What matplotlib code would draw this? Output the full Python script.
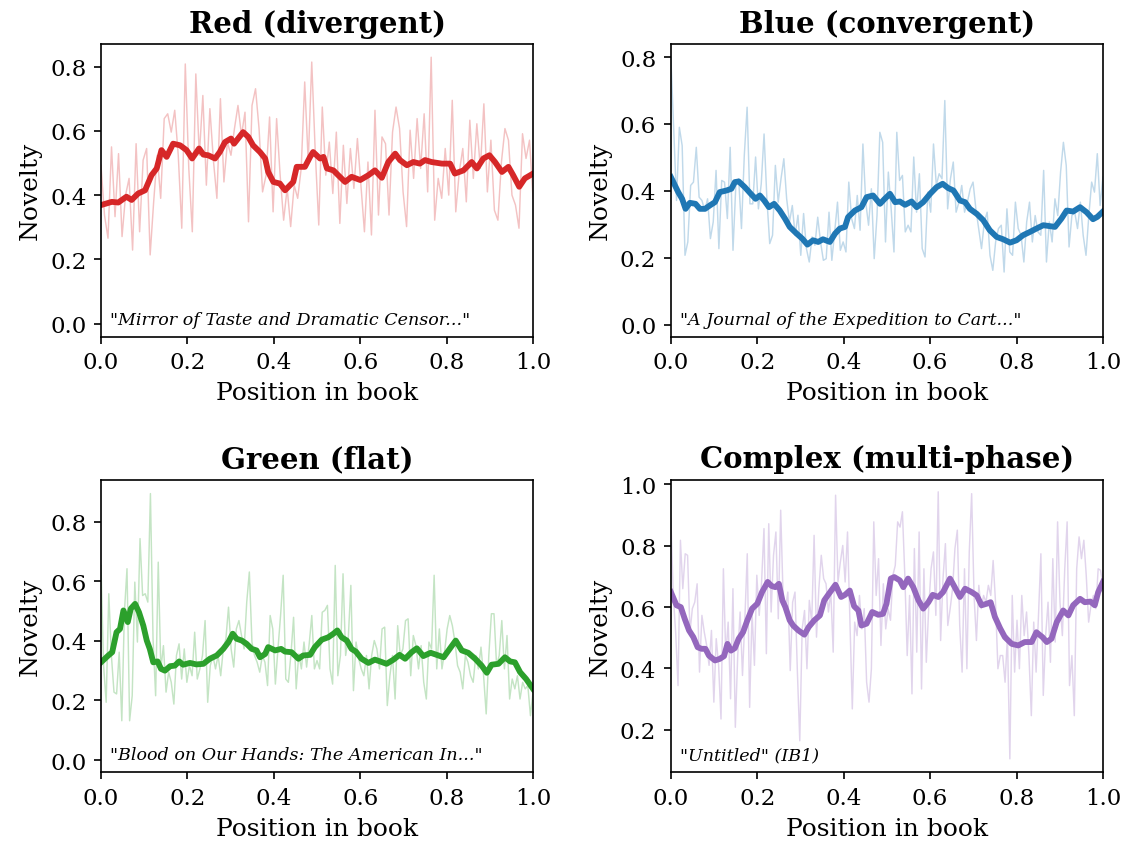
import numpy as np
import matplotlib
matplotlib.use("Agg")
import matplotlib.pyplot as plt

plt.rcParams['font.family'] = ['DejaVu Serif']

# ---- data ----
titles = ["Red (divergent)", "Blue (convergent)", "Green (flat)", "Complex (multi-phase)"]
books = ['"Mirror of Taste and Dramatic Censor..."',
         '"A Journal of the Expedition to Cart..."',
         '"Blood on Our Hands: The American In..."',
         '"Untitled" (IB1)']
colors = ["#d62728", "#1f77b4", "#2ca02c", "#9467bd"]

red_raw = [0.493, 0.338, 0.266, 0.550, 0.333, 0.529, 0.271, 0.400, 0.452, 0.229, 0.560, 0.286, 0.509,
           0.545, 0.214, 0.379, 0.524, 0.390, 0.638, 0.653, 0.596, 0.664, 0.524, 0.297, 0.808, 0.483,
           0.286, 0.777, 0.524, 0.710, 0.431, 0.669, 0.509, 0.390, 0.700, 0.441, 0.565, 0.524, 0.607,
           0.679, 0.586, 0.658, 0.317, 0.679, 0.731, 0.607, 0.410, 0.462, 0.643, 0.348, 0.638, 0.462,
           0.322, 0.421, 0.302, 0.431, 0.390, 0.483, 0.752, 0.503, 0.814,
           0.534, 0.307, 0.674, 0.462, 0.565, 0.405, 0.596, 0.312, 0.555, 0.374, 0.545, 0.421, 0.576,
           0.431, 0.286, 0.503, 0.276, 0.664, 0.338, 0.581, 0.560, 0.338, 0.596, 0.674, 0.607, 0.410,
           0.302, 0.602, 0.452, 0.638, 0.483, 0.653, 0.410, 0.829, 0.322, 0.452, 0.390, 0.545, 0.400,
           0.695, 0.348, 0.472, 0.545, 0.379, 0.633, 0.452, 0.622, 0.483, 0.684, 0.410, 0.571, 0.353,
           0.322, 0.503, 0.607, 0.571, 0.400, 0.369, 0.297, 0.591, 0.514, 0.571, 0.390]
red_sx = [0.0, 0.025, 0.040, 0.059, 0.071, 0.086, 0.102, 0.117, 0.129, 0.140, 0.152, 0.167, 0.183,
          0.198, 0.211, 0.227, 0.237, 0.248, 0.264, 0.275, 0.287, 0.301, 0.308, 0.329, 0.341, 0.352,
          0.368, 0.380, 0.387, 0.399, 0.414, 0.426, 0.445, 0.453, 0.472, 0.484, 0.491, 0.507, 0.515,
          0.523, 0.538, 0.549, 0.565, 0.580, 0.600, 0.619, 0.634, 0.650, 0.665, 0.681, 0.692, 0.708,
          0.723, 0.738, 0.750, 0.765, 0.789, 0.808, 0.819, 0.839, 0.858, 0.870, 0.885, 0.899, 0.912,
          0.928, 0.943, 0.954, 0.968, 0.981, 1.0]
red_sy = [0.369, 0.379, 0.377, 0.395, 0.385, 0.405, 0.415, 0.462, 0.483, 0.540, 0.519, 0.560, 0.555,
          0.540, 0.514, 0.545, 0.526, 0.524, 0.514, 0.534, 0.565, 0.576, 0.560, 0.596, 0.581, 0.555,
          0.534, 0.514, 0.472, 0.441, 0.436, 0.415, 0.441, 0.488, 0.488, 0.519, 0.534, 0.514, 0.519,
          0.483, 0.477, 0.462, 0.441, 0.457, 0.447, 0.462, 0.477, 0.454, 0.503, 0.529, 0.509, 0.493,
          0.503, 0.498, 0.509, 0.503, 0.498, 0.498, 0.467, 0.477, 0.503, 0.483, 0.514, 0.524, 0.503,
          0.472, 0.488, 0.462, 0.426, 0.452, 0.467]

blue_raw = [0.799, 0.585, 0.371, 0.590, 0.535, 0.207, 0.247, 0.416, 0.426, 0.530, 0.381, 0.371, 0.341,
            0.376, 0.257, 0.307, 0.461, 0.227, 0.431, 0.426, 0.317, 0.530, 0.222, 0.416, 0.436, 0.287,
            0.506, 0.650, 0.361, 0.361, 0.501, 0.346, 0.421, 0.570, 0.376, 0.242, 0.267, 0.476, 0.366,
            0.436, 0.496, 0.376, 0.307, 0.356, 0.267, 0.327, 0.207, 0.332, 0.227, 0.187, 0.262, 0.237,
            0.321, 0.247, 0.192, 0.197, 0.336, 0.192, 0.277, 0.366, 0.222, 0.247, 0.217, 0.426, 0.317,
            0.287, 0.386, 0.282, 0.540, 0.366, 0.297, 0.406, 0.197, 0.327, 0.575, 0.545, 0.247, 0.456,
            0.346, 0.217,
            0.575, 0.431, 0.446, 0.277, 0.297, 0.277, 0.501, 0.336, 0.451, 0.227, 0.202, 0.396, 0.336,
            0.540, 0.416, 0.451, 0.436, 0.670, 0.346, 0.436, 0.486, 0.336, 0.366, 0.416, 0.336, 0.366,
            0.406, 0.426, 0.346, 0.287, 0.227, 0.307, 0.336, 0.207, 0.162, 0.247, 0.287, 0.297, 0.157,
            0.346, 0.217, 0.207, 0.366, 0.287, 0.267, 0.187, 0.307, 0.366, 0.247, 0.326, 0.277, 0.267,
            0.461, 0.187, 0.307, 0.247, 0.376, 0.326, 0.456, 0.545, 0.476, 0.232, 0.326, 0.336, 0.287,
            0.366, 0.267, 0.207, 0.326, 0.426, 0.396, 0.511, 0.356, 0.441]
blue_sx = [0.0, 0.017, 0.026, 0.034, 0.044, 0.057, 0.067, 0.079, 0.090, 0.102, 0.113, 0.129, 0.140,
           0.148, 0.157, 0.171, 0.185, 0.196, 0.206, 0.216, 0.227, 0.239, 0.252, 0.264, 0.275, 0.291,
           0.304, 0.316, 0.329, 0.341, 0.352, 0.368, 0.380, 0.391, 0.403, 0.410, 0.426, 0.441, 0.453,
           0.468, 0.484, 0.495, 0.507,
           0.519, 0.530, 0.542, 0.557, 0.569, 0.584, 0.600, 0.615, 0.629, 0.642, 0.654, 0.669, 0.681,
           0.692, 0.708, 0.723, 0.738, 0.754, 0.769, 0.785, 0.800, 0.815, 0.831, 0.846, 0.862, 0.873,
           0.889, 0.904, 0.916, 0.931, 0.947, 0.962, 0.977, 0.987, 1.0]
blue_sy = [0.441, 0.396, 0.376, 0.346, 0.364, 0.361, 0.346, 0.346, 0.356, 0.366, 0.396, 0.401, 0.406,
           0.426, 0.428, 0.411, 0.391, 0.376, 0.386, 0.371, 0.351, 0.361, 0.341, 0.317, 0.292, 0.272,
           0.257, 0.239, 0.252, 0.247, 0.255, 0.247, 0.272, 0.287, 0.292, 0.321, 0.341, 0.351, 0.381,
           0.386, 0.361, 0.376, 0.391,
           0.366, 0.368, 0.358, 0.368, 0.351, 0.366, 0.391, 0.411, 0.421, 0.408, 0.401, 0.371, 0.366,
           0.346, 0.331, 0.312, 0.282, 0.262, 0.255, 0.245, 0.252, 0.267, 0.277, 0.287, 0.297, 0.295,
           0.292, 0.317, 0.341, 0.338, 0.351, 0.336, 0.315, 0.322, 0.338]

green_raw = [0.653, 0.317, 0.194, 0.558, 0.351, 0.228, 0.222, 0.362, 0.132, 0.496, 0.642, 0.132, 0.216,
             0.597, 0.396, 0.743, 0.552, 0.558, 0.530, 0.894, 0.407, 0.216, 0.664, 0.306, 0.384, 0.228,
             0.295, 0.261, 0.188, 0.351, 0.390, 0.272, 0.373, 0.261, 0.317, 0.283, 0.429, 0.272, 0.306,
             0.351, 0.468, 0.194, 0.317, 0.351, 0.306, 0.351, 0.283, 0.373, 0.407, 0.513, 0.373, 0.312,
             0.440, 0.468, 0.418, 0.373, 0.530, 0.631, 0.396, 0.351, 0.328, 0.295, 0.351, 0.328, 0.250,
             0.485, 0.440, 0.255, 0.373, 0.485, 0.620, 0.272, 0.261, 0.356, 0.479, 0.239, 0.356, 0.306,
             0.396, 0.312, 0.390, 0.485, 0.306, 0.334, 0.306, 0.496, 0.502,
             0.519, 0.306, 0.255, 0.653, 0.283, 0.351, 0.625, 0.351, 0.407, 0.586, 0.233, 0.396, 0.340,
             0.306, 0.283, 0.351, 0.239, 0.351, 0.401, 0.373, 0.306, 0.440, 0.446, 0.183, 0.283, 0.351,
             0.205, 0.451, 0.351, 0.373, 0.468, 0.474, 0.283, 0.418, 0.384, 0.306, 0.384, 0.261, 0.205,
             0.396, 0.373, 0.620, 0.306, 0.440, 0.306, 0.362, 0.440, 0.485, 0.451, 0.396, 0.317, 0.295,
             0.239, 0.351, 0.328, 0.283, 0.261, 0.351, 0.306, 0.379, 0.283, 0.155, 0.351, 0.491, 0.491,
             0.317, 0.351, 0.468, 0.306, 0.418, 0.205, 0.272, 0.239, 0.283, 0.205, 0.261, 0.239, 0.250,
             0.149, 0.228]
green_sx = [0.0, 0.017, 0.026, 0.036, 0.044, 0.052, 0.062, 0.069, 0.079, 0.088, 0.098, 0.106, 0.113,
            0.121, 0.131, 0.139, 0.148, 0.160, 0.171, 0.181, 0.190, 0.206, 0.221, 0.237, 0.252, 0.268,
            0.283, 0.295, 0.305, 0.314, 0.326, 0.337, 0.349, 0.360, 0.368, 0.380, 0.387, 0.403, 0.417,
            0.426, 0.441, 0.457, 0.468, 0.484, 0.495, 0.511,
            0.526, 0.538, 0.547, 0.557, 0.569, 0.580, 0.590, 0.603, 0.619, 0.634, 0.646, 0.661, 0.677,
            0.691, 0.704, 0.719, 0.731, 0.746, 0.763, 0.777, 0.793, 0.808, 0.821, 0.835, 0.850, 0.866,
            0.881, 0.893, 0.904, 0.920, 0.935, 0.947, 0.958, 0.970, 0.984, 1.0]
green_sy = [0.328, 0.351, 0.362, 0.429, 0.440, 0.502, 0.463, 0.508, 0.524, 0.496, 0.451, 0.401, 0.373,
            0.328, 0.331, 0.306, 0.300, 0.315, 0.317, 0.331, 0.320, 0.326, 0.321, 0.323, 0.340, 0.351,
            0.373, 0.396, 0.424, 0.407, 0.401, 0.390, 0.373, 0.368, 0.345, 0.356, 0.379, 0.368, 0.373,
            0.364, 0.362, 0.340, 0.351, 0.353, 0.379, 0.404,
            0.412, 0.424, 0.435, 0.412, 0.401, 0.373, 0.364, 0.340, 0.326, 0.337, 0.331, 0.323, 0.337,
            0.353, 0.340, 0.362, 0.375, 0.349, 0.360, 0.353, 0.345, 0.375, 0.401, 0.368, 0.360, 0.340,
            0.317, 0.293, 0.320, 0.323, 0.345, 0.331, 0.328, 0.295, 0.272, 0.239]

purple_raw = [0.889, 0.638, 0.518, 0.344, 0.818, 0.660, 0.774, 0.769, 0.518, 0.595, 0.616, 0.676, 0.388,
              0.573, 0.518, 0.475, 0.410, 0.524, 0.290, 0.497, 0.410, 0.235, 0.725, 0.442, 0.551, 0.301,
              0.660, 0.208, 0.442, 0.584, 0.377, 0.562, 0.774, 0.273, 0.584, 0.410, 0.704, 0.573, 0.682,
              0.856, 0.448, 0.872, 0.584, 0.769, 0.845, 0.562, 0.916, 0.638, 0.595, 0.649, 0.393, 0.616,
              0.649, 0.388, 0.164, 0.529, 0.589, 0.399, 0.622, 0.551, 0.834, 0.502, 0.660, 0.769, 0.693,
              0.676, 0.584, 0.649, 0.453, 0.965, 0.682, 0.747, 0.801, 0.682, 0.845, 0.562, 0.268, 0.551,
              0.507, 0.638, 0.529, 0.595, 0.355, 0.290, 0.399, 0.878, 0.638,
              0.758, 0.475, 0.676, 0.529, 0.595, 0.557, 0.704, 0.736, 0.878, 0.861, 0.911, 0.704, 0.442,
              0.638, 0.317, 0.791, 0.453, 0.845, 0.333, 0.725, 0.420, 0.595, 0.725, 0.780, 0.573, 0.976,
              0.491, 0.693, 0.807, 0.540, 0.595, 0.660, 0.791, 0.851, 0.540, 0.388, 0.725, 0.399, 0.780,
              0.970, 0.638, 0.491, 0.671, 0.595, 0.638, 0.616, 0.671, 0.638, 0.752, 0.616, 0.399, 0.442,
              0.442, 0.355, 0.507, 0.105, 0.638, 0.388, 0.557, 0.399, 0.638, 0.507, 0.584, 0.442, 0.246,
              0.551, 0.388, 0.573, 0.774, 0.312, 0.507, 0.616, 0.420, 0.758, 0.486, 0.878, 0.616, 0.507,
              0.725, 0.878, 0.344, 0.442, 0.246, 0.725, 0.829, 0.758, 0.818, 0.704, 0.551, 0.606, 0.638,
              0.595, 0.725, 0.720, 0.671]
purple_sx = [0.0, 0.013, 0.023, 0.032, 0.042, 0.052, 0.062, 0.071, 0.080, 0.088, 0.102, 0.113, 0.123,
             0.131, 0.139, 0.148, 0.157, 0.167, 0.177, 0.188, 0.200, 0.211, 0.224, 0.233, 0.242, 0.250,
             0.258, 0.265, 0.275, 0.283, 0.295, 0.309, 0.319, 0.332, 0.345, 0.355, 0.366, 0.381, 0.394,
             0.403, 0.414, 0.424, 0.434, 0.441, 0.453, 0.466, 0.480, 0.491, 0.499, 0.509, 0.517,
             0.530, 0.538, 0.549, 0.561, 0.573, 0.584, 0.596, 0.606, 0.619, 0.630, 0.646, 0.657, 0.669,
             0.681, 0.696, 0.708, 0.719, 0.731, 0.740, 0.750, 0.762, 0.773, 0.789, 0.804, 0.819, 0.835,
             0.846, 0.860, 0.870, 0.881, 0.893, 0.908, 0.920, 0.931, 0.947, 0.958, 0.971, 0.981, 0.989,
             1.0]
purple_sy = [0.649, 0.606, 0.600, 0.562, 0.524, 0.502, 0.469, 0.464, 0.464, 0.442, 0.426, 0.431, 0.440,
             0.480, 0.458, 0.466, 0.497, 0.518, 0.557, 0.595, 0.611, 0.649, 0.682, 0.669, 0.665, 0.676,
             0.622, 0.600, 0.557, 0.540, 0.524, 0.510, 0.535, 0.557, 0.573, 0.622, 0.644, 0.673, 0.633,
             0.640, 0.654, 0.603, 0.589, 0.540, 0.546, 0.584, 0.575, 0.578, 0.611, 0.693, 0.698,
             0.687, 0.665, 0.693, 0.665, 0.622, 0.595, 0.616, 0.640, 0.633, 0.649, 0.693, 0.665, 0.633,
             0.660, 0.649, 0.638, 0.606, 0.611, 0.616, 0.568, 0.531, 0.502, 0.480, 0.475, 0.486, 0.486,
             0.518, 0.502, 0.486, 0.497, 0.551, 0.589, 0.573, 0.606, 0.627, 0.616, 0.618, 0.606, 0.649,
             0.682]

raws = [red_raw, blue_raw, green_raw, purple_raw]
smooth_x = [red_sx, blue_sx, green_sx, purple_sx]
smooth_y = [red_sy, blue_sy, green_sy, purple_sy]
ylims = [(-0.04, 0.87), (-0.036, 0.839), (-0.04, 0.941), (0.062, 1.016)]

fig, axes = plt.subplots(2, 2, figsize=(7.513, 5.693), dpi=150)
fig.subplots_adjust(left=0.0896, right=0.9787, top=0.9473, bottom=0.0948,
                    wspace=0.319, hspace=0.489)

for ax, title, book, c, raw, sx, sy, yl in zip(axes.flat, titles, books, colors,
                                              raws, smooth_x, smooth_y, ylims):
    x = np.linspace(0, 1, len(raw))
    ax.plot(x, raw, color=c, alpha=0.28, lw=0.7)
    ax.plot(sx, sy, color=c, lw=2.8)
    ax.set_xlim(0, 1)
    ax.set_ylim(*yl)
    ax.set_title(title, fontsize=14, fontweight='bold')
    ax.set_xlabel("Position in book", fontsize=12)
    ax.set_ylabel("Novelty", fontsize=12)
    ax.tick_params(labelsize=11)
    ax.text(0.02, 0.03, book, transform=ax.transAxes, fontsize=8.4,
            style='italic', va='bottom', ha='left')

fig.savefig("out.png", dpi=150)
